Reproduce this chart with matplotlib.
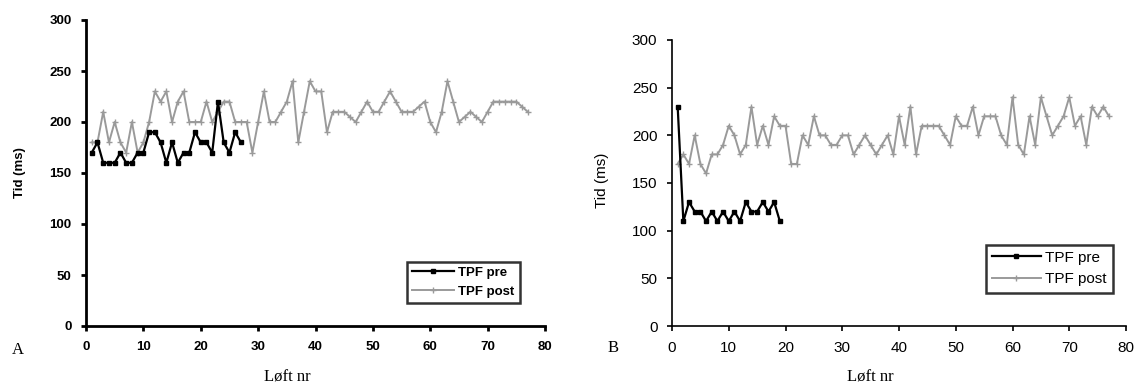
import matplotlib
matplotlib.use("Agg")
import matplotlib.pyplot as plt

# -------------------- data --------------------
# Panel A
a_pre_x = list(range(1, 28))
a_pre = [170, 180, 160, 160, 160, 170, 160, 160, 170, 170,
         190, 190, 180, 160, 180, 160, 170, 170, 190, 180,
         180, 170, 220, 180, 170, 190, 180]
a_post_x = list(range(1, 78))
a_post = [180, 180, 210, 180, 200, 180, 170, 200, 170, 180,
          200, 230, 220, 230, 200, 220, 230, 200, 200, 200,
          220, 200, 210, 220, 220, 200, 200, 200, 170, 200,
          230, 200, 200, 210, 220, 240, 180, 210, 240, 230,
          230, 190, 210, 210, 210, 205, 200, 210, 220, 210,
          210, 220, 230, 220, 210, 210, 210, 215, 220, 200,
          190, 210, 240, 220, 200, 205, 210, 205, 200, 210,
          220, 220, 220, 220, 220, 215, 210]

# Panel B
b_pre_x = list(range(1, 20))
b_pre = [230, 110, 130, 120, 120, 110, 120, 110, 120, 110,
         120, 110, 130, 120, 120, 130, 120, 130, 110]
b_post_x = list(range(1, 78))
b_post = [170, 180, 170, 200, 170, 160, 180, 180, 190, 210,
          200, 180, 190, 230, 190, 210, 190, 220, 210, 210,
          170, 170, 200, 190, 220, 200, 200, 190, 190, 200,
          200, 180, 190, 200, 190, 180, 190, 200, 180, 220,
          190, 230, 180, 210, 210, 210, 210, 200, 190, 220,
          210, 210, 230, 200, 220, 220, 220, 200, 190, 240,
          190, 180, 220, 190, 240, 220, 200, 210, 220, 240,
          210, 220, 190, 230, 220, 230, 220]

x_ticks = [0, 10, 20, 30, 40, 50, 60, 70, 80]
y_ticks = [0, 50, 100, 150, 200, 250, 300]
labels = ["TPF pre", "TPF post"]

W, H = 1139, 389
fig = plt.figure(figsize=(W / 100, H / 100), dpi=100)
fig.patch.set_facecolor("white")

sans = "Liberation Sans"
serif = "Liberation Serif"
gray = "#9a9a9a"


def fx(px):
    return px / W


def fy(py):
    return 1 - py / H


def make_panel(rect, pre_x, pre, post_x, post, spine_w, fsize, weight,
               leg_xy, letter_xy, letter, xlabel_xy, ylabel_xy):
    ax = fig.add_axes(rect)
    post_line, = ax.plot(post_x, post, color=gray, lw=1.4, marker="+",
                         ms=4, mew=1.0, zorder=2)
    pre_line, = ax.plot(pre_x, pre, color="black", lw=1.6, marker="s",
                        ms=3.4, zorder=3)
    ax.set_xlim(0, 80)
    ax.set_ylim(0, 300)
    ax.set_xticks(x_ticks)
    ax.set_yticks(y_ticks)
    for s in ["top", "right"]:
        ax.spines[s].set_visible(False)
    for s in ["left", "bottom"]:
        ax.spines[s].set_linewidth(spine_w)
    ax.tick_params(direction="out", length=3.5, width=spine_w, pad=7,
                   labelsize=fsize)
    for t in ax.get_xticklabels() + ax.get_yticklabels():
        t.set_fontfamily(sans)
        t.set_fontweight(weight)

    leg = ax.legend([pre_line, post_line], labels, loc="upper left",
                    bbox_to_anchor=leg_xy, bbox_transform=fig.transFigure,
                    frameon=True, fancybox=False, edgecolor="black",
                    handlelength=3.2, borderpad=0.4, labelspacing=0.5,
                    handletextpad=0.3,
                    prop={"family": sans, "size": fsize, "weight": weight})
    leg.get_frame().set_linewidth(1.8)

    fig.text(letter_xy[0], letter_xy[1], letter, family=serif, fontsize=12,
             ha="left", va="center")
    fig.text(xlabel_xy[0], xlabel_xy[1], "Løft nr", family=serif,
             fontsize=12, ha="center", va="center")
    fig.text(ylabel_xy[0], ylabel_xy[1], "Tid (ms)", family=sans,
             fontsize=fsize, fontweight=weight, rotation=90,
             ha="center", va="center")
    return ax


# -------------------- Panel A --------------------
make_panel([fx(86), fy(326), fx(545 - 86), (326 - 20) / H],
           a_pre_x, a_pre, a_post_x, a_post, 2.0, 9.5, "bold",
           (fx(400), fy(255)), (fx(12), fy(350)), "A",
           (fx(287), fy(378)), (fx(20), fy(173)))

# -------------------- Panel B --------------------
make_panel([fx(672), fy(326), fx(1126 - 672), (326 - 40) / H],
           b_pre_x, b_pre, b_post_x, b_post, 1.2, 11, "normal",
           (fx(978), fy(237)), (fx(608), fy(348)), "B",
           (fx(870), fy(378)), (fx(602), fy(180)))

fig.savefig("out.png", dpi=100)
